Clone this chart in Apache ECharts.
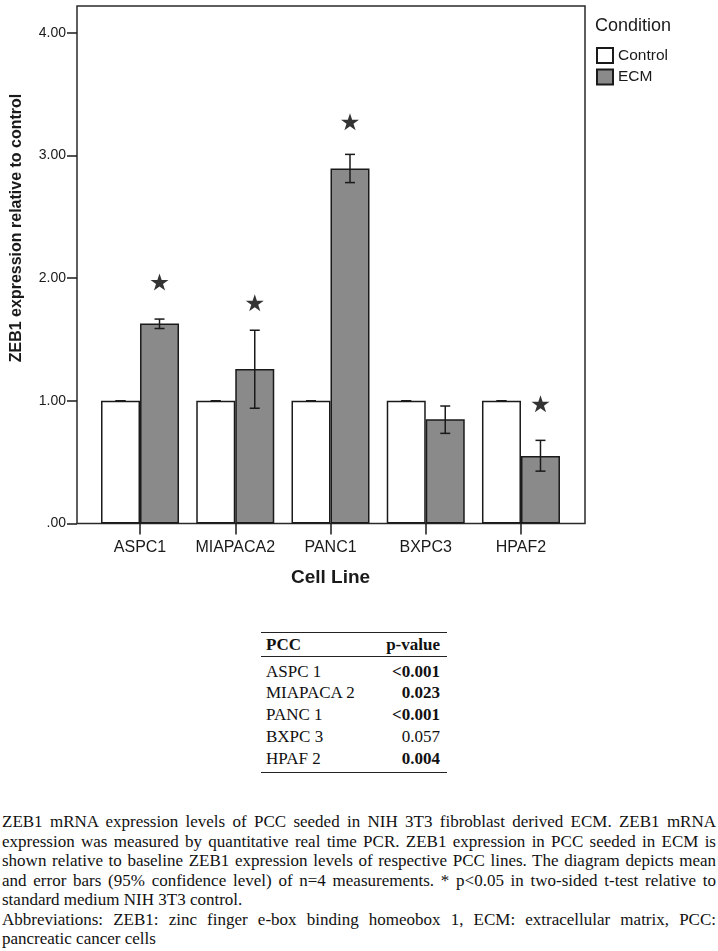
<!DOCTYPE html>
<html><head><meta charset="utf-8">
<script src="https://cdn.jsdelivr.net/npm/echarts@6/dist/echarts.min.js"></script>
<style>
html,body{margin:0;padding:0;background:#fff;}
#chart{position:absolute;left:0;top:0;width:718px;height:600px;}
#tbl{position:absolute;left:261px;top:632px;width:186px;font-family:'Liberation Serif','Times New Roman',serif;font-size:17px;color:#111;}
.rule{height:0;border-top:1.5px solid #222;}
.rule.thin{border-top-width:1px;}
.row{display:flex;justify-content:space-between;padding:0 7px 0 5px;height:21.8px;line-height:21.8px;white-space:nowrap;}
.row.head{height:22.5px;line-height:24px;font-weight:bold;}
.b{font-weight:bold;}
#cap{position:absolute;left:2px;top:812px;width:714px;font-family:'Liberation Serif','Times New Roman',serif;font-size:17px;line-height:19.5px;color:#111;}
.ln{text-align:justify;text-align-last:justify;}
.ln.last{text-align-last:left;}
</style></head>
<body>
<div id="chart"></div>
<div id="tbl"></div>
<div id="cap"></div>
<script>
// ---- data ----
const categories = ['ASPC1', 'MIAPACA2', 'PANC1', 'BXPC3', 'HPAF2'];
const controlValues = [1.00, 1.00, 1.00, 1.00, 1.00];
const ecmValues = [1.63, 1.26, 2.895, 0.85, 0.55];
const controlErrLow = [1.00, 1.00, 1.00, 1.00, 1.00];
const controlErrHigh = [1.00, 1.00, 1.00, 1.00, 1.00];
const ecmErrLow = [1.59, 0.94, 2.78, 0.735, 0.427];
const ecmErrHigh = [1.667, 1.576, 3.01, 0.958, 0.678];
const starValues = [1.97, 1.80, 3.276, null, 0.976];
const yTicks = [0, 1, 2, 3, 4];
const yMax = 4.22;
const pccNames = ['ASPC 1', 'MIAPACA 2', 'PANC 1', 'BXPC 3', 'HPAF 2'];
const pValues = ['<0.001', '0.023', '<0.001', '0.057', '0.004'];
const pBold = [true, true, true, false, true];
const captionLines = [
  'ZEB1 mRNA expression levels of PCC seeded in NIH 3T3 fibroblast derived ECM. ZEB1 mRNA',
  'expression was measured by quantitative real time PCR. ZEB1 expression in PCC seeded in ECM is',
  'shown relative to baseline ZEB1 expression levels of respective PCC lines. The diagram depicts mean',
  'and error bars (95% confidence level) of n=4 measurements. * p<0.05 in two-sided t-test relative to',
  'standard medium NIH 3T3 control.',
  'Abbreviations: ZEB1: zinc finger e-box binding homeobox 1, ECM: extracellular matrix, PCC:',
  'pancreatic cancer cells'
];
const captionLast = [false, false, false, false, true, false, true];

// ---- chart ----
const BAR_W = 39;
const SANS = "'Liberation Sans', Arial, sans-serif";
const INK = '#1a1a1a';
const starPath = 'path://M50,0 L61.8,35.5 L99,35.5 L69,57.5 L80.5,93 L50,71 L19.5,93 L31,57.5 L1,35.5 L38.2,35.5 Z';

function errSeries(name, low, high, offset) {
  return {
    name: name, type: 'custom', xAxisIndex: 1, yAxisIndex: 1, z: 5,
    data: low.map((l, i) => [i, l, high[i]]),
    encode: { x: 0, y: [1, 2] },
    renderItem: function (params, api) {
      const lo = api.coord([api.value(0), api.value(1)]);
      const hi = api.coord([api.value(0), api.value(2)]);
      const x = lo[0] + offset;
      const hw = 5;
      const st = { stroke: INK, lineWidth: 1.5 };
      return { type: 'group', children: [
        { type: 'line', shape: { x1: x, y1: lo[1], x2: x, y2: hi[1] }, style: st },
        { type: 'line', shape: { x1: x - hw, y1: lo[1], x2: x + hw, y2: lo[1] }, style: st },
        { type: 'line', shape: { x1: x - hw, y1: hi[1], x2: x + hw, y2: hi[1] }, style: st }
      ]};
    }
  };
}

const chart = echarts.init(document.getElementById('chart'), null, { renderer: 'canvas' });
chart.setOption({
  animation: false,
  backgroundColor: '#fff',
  textStyle: { fontFamily: SANS, color: INK },
  grid: [
    { left: 77, top: 6, width: 508, height: 517.5, show: true, borderColor: '#2a2a2a', borderWidth: 1.5, backgroundColor: 'transparent' },
    { left: 92.4, top: 6, width: 476.2, height: 517.5 }
  ],
  xAxis: [
    { gridIndex: 0, type: 'value', min: 0, max: 1, show: false },
    { gridIndex: 1, type: 'category', data: categories,
      axisLine: { show: false },
      axisTick: { show: true, alignWithLabel: true, length: 11, inside: false, interval: 0, lineStyle: { color: INK, width: 1.5 } },
      axisLabel: { fontSize: 16, color: INK, margin: 16, interval: 0, fontFamily: SANS },
      name: 'Cell Line', nameLocation: 'middle', nameGap: 45,
      nameTextStyle: { fontSize: 19, fontWeight: 'bold', color: INK, fontFamily: SANS }
    }
  ],
  yAxis: [
    { gridIndex: 0, type: 'value', min: 0, max: yMax,
      axisLine: { show: false },
      splitLine: { show: false },
      axisTick: { show: true, length: 10, inside: false, customValues: yTicks, lineStyle: { color: INK, width: 1.5 } },
      axisLabel: { fontSize: 14, color: INK, margin: 11, customValues: yTicks, fontFamily: SANS,
        formatter: v => (v === 0 ? '.00' : v.toFixed(2)) }
    },
    { gridIndex: 1, type: 'value', min: 0, max: yMax, show: false, splitLine: { show: false } }
  ],
  legend: {
    data: ['Control', 'ECM'], orient: 'vertical', left: 596, top: 47, padding: 0,
    itemWidth: 16, itemHeight: 15, itemGap: 4.5, icon: 'rect',
    textStyle: { fontSize: 15.5, color: INK, fontFamily: SANS }
  },
  graphic: [
    { type: 'text', left: 595, top: 17, style: { text: 'Condition', font: "18px 'Liberation Sans', Arial, sans-serif", fill: INK } },
    { type: 'text', x: 17, y: 228, rotation: Math.PI / 2,
      style: { text: 'ZEB1 expression relative to control', font: "bold 16px 'Liberation Sans', Arial, sans-serif", fill: INK, textAlign: 'center', textVerticalAlign: 'middle' } }
  ],
  series: [
    { name: 'Control', type: 'bar', xAxisIndex: 1, yAxisIndex: 1, data: controlValues, barWidth: BAR_W, barGap: '0%',
      itemStyle: { color: '#ffffff', borderColor: INK, borderWidth: 1.5 } },
    { name: 'ECM', type: 'bar', xAxisIndex: 1, yAxisIndex: 1, data: ecmValues, barWidth: BAR_W, barGap: '0%',
      itemStyle: { color: '#8a8a8a', borderColor: INK, borderWidth: 1.5 } },
    errSeries('ControlErr', controlErrLow, controlErrHigh, -BAR_W / 2),
    errSeries('ECMErr', ecmErrLow, ecmErrHigh, BAR_W / 2),
    { name: 'Significant', type: 'scatter', xAxisIndex: 1, yAxisIndex: 1, z: 6,
      data: starValues.map((v, i) => (v == null ? null : [i, v])).filter(d => d),
      symbol: starPath, symbolSize: [18, 17], symbolOffset: [BAR_W / 2, 0],
      itemStyle: { color: '#000' } }
  ]
});

// ---- table ----
const tbl = document.getElementById('tbl');
let html = '<div class="rule"></div>';
html += '<div class="row head"><span>PCC</span><span>p-value</span></div>';
html += '<div class="rule thin"></div><div style="height:4px"></div>';
pccNames.forEach((n, i) => {
  html += '<div class="row"><span>' + n + '</span><span' + (pBold[i] ? ' class="b"' : '') + '>' +
    pValues[i].replace('<', '&lt;') + '</span></div>';
});
html += '<div style="height:2.5px"></div><div class="rule"></div>';
tbl.innerHTML = html;

// ---- caption ----
const cap = document.getElementById('cap');
captionLines.forEach((t, i) => {
  const d = document.createElement('div');
  d.className = 'ln' + (captionLast[i] ? ' last' : '');
  d.textContent = t;
  cap.appendChild(d);
});
</script>
</body></html>
